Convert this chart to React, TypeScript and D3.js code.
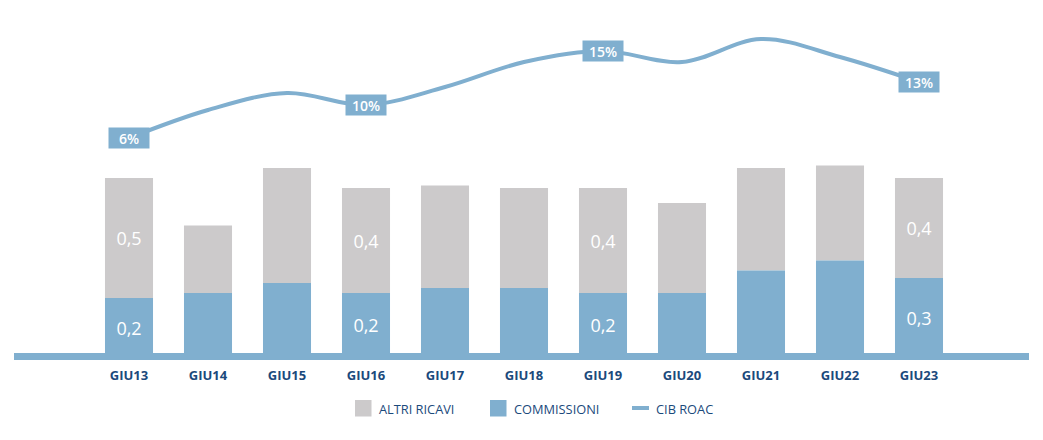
import React from "react";
import * as d3 from "d3";

const categories = ["GIU13", "GIU14", "GIU15", "GIU16", "GIU17", "GIU18", "GIU19", "GIU20", "GIU21", "GIU22", "GIU23"];
const commissioni = [0.22, 0.24, 0.28, 0.24, 0.26, 0.26, 0.24, 0.24, 0.33, 0.37, 0.3];
const altriRicavi = [0.48, 0.27, 0.46, 0.42, 0.41, 0.4, 0.42, 0.36, 0.41, 0.38, 0.4];
const cibRoac = [6.2, 9.0, 10.7, 9.5, 11.3, 13.8, 14.9, 13.8, 16.1, 14.3, 11.8];
const roacLabels = ["6%", "", "", "10%", "", "", "15%", "", "", "", "13%"];
const barLabelShown = [true, false, false, true, false, false, true, false, false, false, true];
const legendItems = ["ALTRI RICAVI", "COMMISSIONI", "CIB ROAC"];

const W = 1043;
const H = 440;
const BLUE = "#80afcf";
const GRAY = "#cccacb";
const NAVY = "#1b4a7c";
const FONT = "'Open Sans', 'Noto Sans', sans-serif";

export default function App() {
  const baseline = 353;
  const x = d3.scaleBand<string>().domain(categories).range([89.5, 89.5 + 79 * 11]).paddingInner(0.392).paddingOuter(0.196);
  const y = d3.scaleLinear().domain([0, 1]).range([baseline, baseline - 250]);
  const yl = d3.scaleLinear().domain([0, 20]).range([200, 0]);
  const fmt = (v: number) => v.toFixed(1).replace(".", ",");

  const line = d3
    .line<number>()
    .x((_, i) => (x(categories[i]) as number) + x.bandwidth() / 2)
    .y((d) => yl(d))
    .curve(d3.curveCatmullRom.alpha(0.5));

  return (
    <svg width={W} height={H} style={{ position: "absolute", left: 0, top: 0, background: "#fff" }} fontFamily={FONT}>
      {categories.map((c, i) => {
        const x0 = x(c) as number;
        const bw = x.bandwidth();
        const yb = y(commissioni[i]);
        const yt = y(commissioni[i] + altriRicavi[i]);
        return (
          <g key={c}>
            <rect x={x0} y={yt} width={bw} height={yb - yt} fill={GRAY} />
            <rect x={x0} y={yb} width={bw} height={baseline - yb} fill={BLUE} />
            {barLabelShown[i] && (
              <>
                <text x={x0 + bw / 2} y={(yt + yb) / 2} fill="#fff" fontSize={18} fontWeight={500} textAnchor="middle" dominantBaseline="central">
                  {fmt(altriRicavi[i])}
                </text>
                <text x={x0 + bw / 2} y={(yb + baseline) / 2 + 2} fill="#fff" fontSize={18} fontWeight={500} textAnchor="middle" dominantBaseline="central">
                  {fmt(commissioni[i])}
                </text>
              </>
            )}
            <text x={x0 + bw / 2} y={375} fill={NAVY} fontSize={13} fontWeight={700} textAnchor="middle" dominantBaseline="central">
              {c}
            </text>
          </g>
        );
      })}
      <rect x={14} y={353} width={1015} height={7} fill={BLUE} />
      <path d={line(cibRoac) || ""} fill="none" stroke={BLUE} strokeWidth={4} />
      {cibRoac.map((v, i) =>
        roacLabels[i] ? (
          <g key={"l" + i}>
            <rect x={(x(categories[i]) as number) + x.bandwidth() / 2 - 20.5} y={yl(v) - 10.5} width={41} height={21} fill={BLUE} />
            <text x={(x(categories[i]) as number) + x.bandwidth() / 2} y={yl(v) + 0.5} fill="#fff" fontSize={14} fontWeight={600} textAnchor="middle" dominantBaseline="central">
              {roacLabels[i]}
            </text>
          </g>
        ) : null
      )}
      {/* legend */}
      <rect x={355} y={400} width={16.5} height={16.5} fill={GRAY} />
      <text x={379} y={409} fill={NAVY} fontSize={12.8} fontWeight={500} dominantBaseline="central">{legendItems[0]}</text>
      <rect x={490} y={400} width={16.5} height={16.5} fill={BLUE} />
      <text x={514} y={409} fill={NAVY} fontSize={12.8} fontWeight={500} dominantBaseline="central">{legendItems[1]}</text>
      <line x1={632} x2={649} y1={408} y2={408} stroke={BLUE} strokeWidth={4} />
      <text x={656} y={409} fill={NAVY} fontSize={12.8} fontWeight={500} dominantBaseline="central">{legendItems[2]}</text>
    </svg>
  );
}
